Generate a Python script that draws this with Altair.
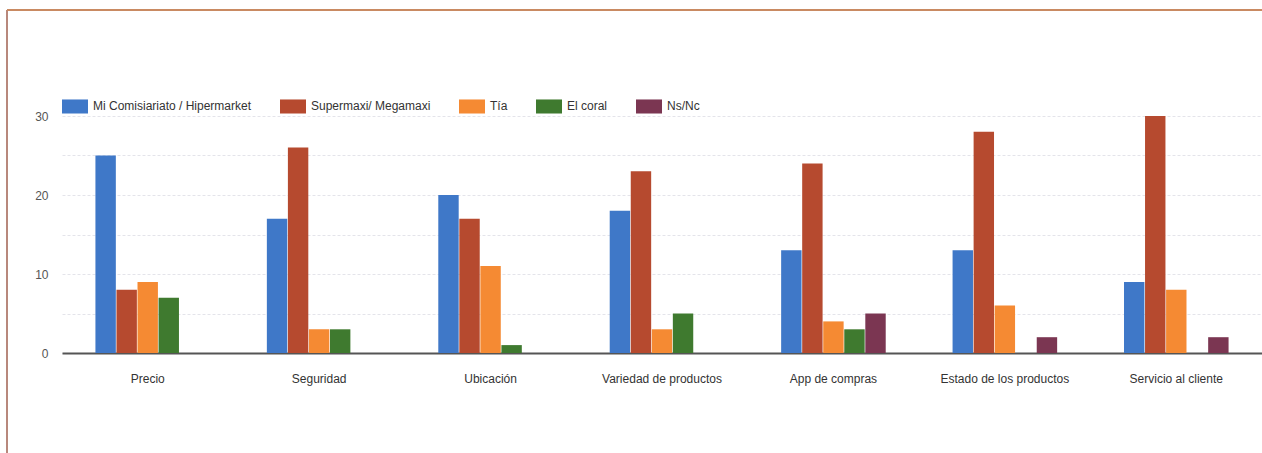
import altair as alt
import pandas as pd

categories = ["Precio", "Seguridad", "Ubicación", "Variedad de productos",
              "App de compras", "Estado de los productos", "Servicio al cliente"]
series = ["Mi Comisiariato / Hipermarket", "Supermaxi/ Megamaxi", "Tía", "El coral", "Ns/Nc"]
colors = ["#3f78c8", "#b64a2f", "#f58a33", "#3f7a2f", "#7b3652"]

mi_comisariato = [25, 17, 20, 18, 13, 13, 9]
supermaxi = [8, 26, 17, 23, 24, 28, 30]
tia = [9, 3, 11, 3, 4, 6, 8]
el_coral = [7, 3, 1, 5, 3, 0, 0]
ns_nc = [0, 0, 0, 0, 5, 2, 2]

values = [mi_comisariato, supermaxi, tia, el_coral, ns_nc]
rows = []
for s, vals in zip(series, values):
    for c, v in zip(categories, vals):
        rows.append({"categoria": c, "serie": s, "valor": v})
df = pd.DataFrame(rows)

rect_path = "M-1,-0.54H1V0.54H-1Z"

bars = alt.Chart(df).mark_bar().encode(
    x=alt.X("categoria:N", sort=categories,
            scale=alt.Scale(paddingInner=0.39, paddingOuter=0.195),
            axis=alt.Axis(title=None, labelAngle=0, labelFont="Liberation Sans",
                          labelFontSize=12, labelColor="#333333", labelPadding=20,
                          ticks=False, domain=True, domainColor="#555555",
                          domainWidth=2, grid=False)),
    xOffset=alt.XOffset("serie:N", sort=series,
                        scale=alt.Scale(paddingInner=0.03, paddingOuter=0)),
    y=alt.Y("valor:Q", scale=alt.Scale(domain=[0, 30], nice=False),
            axis=alt.Axis(title=None, values=[0, 5, 10, 15, 20, 25, 30],
                          labelExpr="datum.value % 10 == 0 ? datum.label : ''",
                          labelFont="Liberation Sans", labelFontSize=12,
                          labelColor="#555555", labelPadding=14,
                          ticks=False, domain=False,
                          gridColor="#e4e4ea", gridDash=[3, 2], gridWidth=1)),
    color=alt.Color("serie:N", sort=series,
                    scale=alt.Scale(domain=series, range=colors),
                    legend=alt.Legend(title=None, orient="none", legendX=0, legendY=-23,
                                      direction="horizontal", symbolType=rect_path,
                                      symbolSize=676, symbolStrokeWidth=0,
                                      labelFont="Liberation Sans", labelFontSize=12,
                                      labelColor="#333333", columnPadding=28,
                                      labelOffset=5)),
)

# decorative frame around the figure (as in the scanned reference)
frame_left = alt.Chart(df).mark_rule(color="#b8887c", strokeWidth=2).encode(
    x=alt.value(-55), y=alt.value(-106), y2=alt.value(340))
frame_top = alt.Chart(df).mark_rule(color="#c98a62", strokeWidth=2).encode(
    x=alt.value(-55), x2=alt.value(1205), y=alt.value(-106))

chart = alt.layer(bars, frame_left, frame_top).properties(
    width=1200, height=237,
    autosize=alt.AutoSizeParams(type="none"),
    padding={"left": 62, "top": 116, "right": 0, "bottom": 100},
    background="white",
).configure_view(stroke=None)

chart.save("out.html", embed_options={"renderer": "svg", "actions": False})
